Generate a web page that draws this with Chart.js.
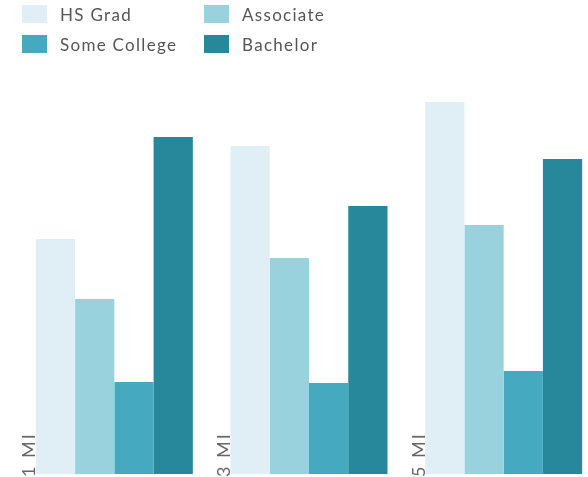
<!DOCTYPE html>
<html>
<head>
<meta charset="utf-8">
<script src="https://cdn.jsdelivr.net/npm/chart.js@4/dist/chart.umd.min.js"></script>
<style>
    html, body { margin: 0; padding: 0; background: #fff; overflow: hidden; }
    .wrap { position: relative; width: 588px; height: 477px; overflow: hidden; }
    #chart { position: absolute; left: 0; top: 0; }
    .legend {
        position: absolute; left: 22px; top: 5px;
        display: grid; grid-template-columns: 182px 182px; row-gap: 12px;
        font-family: Lato, "Open Sans", sans-serif; font-size: 17px; letter-spacing: 1.3px; color: #555;
    }
    .legend-item { display: flex; align-items: center; height: 18px; }
    .legend-box { width: 25px; height: 18px; margin-right: 13px; flex: none; }
</style>
</head>
<body>
<div class="wrap">
    <canvas id="chart" width="601" height="477"></canvas>
    <div class="legend" id="legend"></div>
</div>
<script>
const labels = ['1 MI', '3 MI', '5 MI']
const hsGrad = [235, 328, 372]
const associate = [175, 216, 249]
const someCollege = [92, 91, 103]
const bachelor = [337, 268, 315]

const seriesNames = ['HS Grad', 'Associate', 'Some College', 'Bachelor']
const seriesColors = ['#e0eff5', '#99d1dc', '#45aabf', '#27889b']
const seriesValues = [hsGrad, associate, someCollege, bachelor]

// vertical category labels at the left edge of each group
const groupLabels = {
    id: 'groupLabels',
    afterDraw(chart) {
        const { ctx } = chart
        const meta = chart.getDatasetMeta(0)
        ctx.save()
        ctx.font = '18px Lato, "Open Sans", sans-serif'
        if ('letterSpacing' in ctx) ctx.letterSpacing = '2px'
        ctx.fillStyle = '#666'
        ctx.textBaseline = 'alphabetic'
        ctx.textAlign = 'left'
        meta.data.forEach((bar, i) => {
            const left = bar.x - bar.width / 2
            ctx.save()
            ctx.translate(left - 0.5, chart.chartArea.bottom + 3)
            ctx.rotate(-Math.PI / 2)
            ctx.fillText(chart.data.labels[i], 0, 0)
            ctx.restore()
        })
        ctx.restore()
    }
}

const chart = new Chart(document.getElementById('chart').getContext('2d'), {
    type: 'bar',
    data: {
        labels,
        datasets: seriesNames.map((name, i) => ({
            label: name,
            data: seriesValues[i],
            backgroundColor: seriesColors[i],
            borderWidth: 0,
            categoryPercentage: 0.8065,
            barPercentage: 1
        }))
    },
    options: {
        responsive: false,
        animation: false,
        layout: { padding: { left: 17, right: 0, top: 74, bottom: 3 } },
        plugins: { legend: { display: false }, tooltip: { enabled: false } },
        scales: {
            x: { display: false, grid: { display: false } },
            y: { display: false, min: 0, max: 400 }
        }
    },
    plugins: [groupLabels]
})

const legend = document.getElementById('legend')
chart.data.datasets.forEach(ds => {
    const item = document.createElement('div')
    item.className = 'legend-item'
    item.innerHTML = `<span class="legend-box" style="background:${ds.backgroundColor}"></span><span>${ds.label}</span>`
    legend.appendChild(item)
})
</script>
</body>
</html>
